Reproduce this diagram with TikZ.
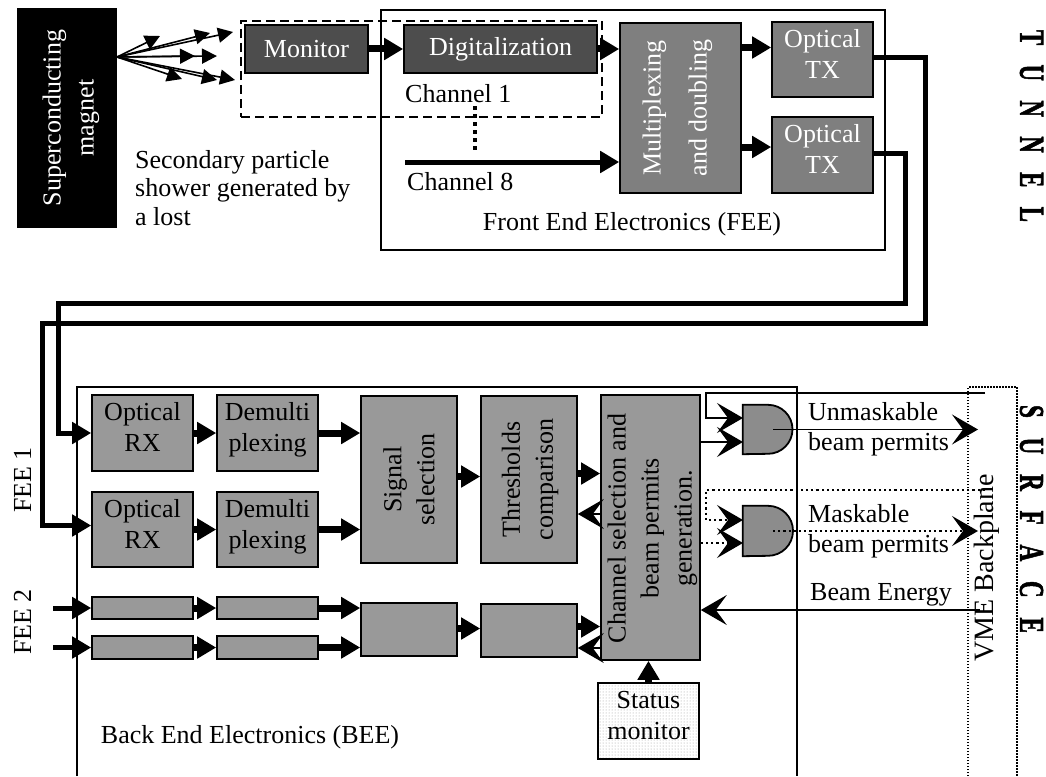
\documentclass[tikz,border=0pt]{standalone}
\usepackage{fontspec}
\setmainfont{Liberation Serif}
\newfontfamily\spacedfont[WordSpace=3.4,UprightFont={* Bold},FakeBold=2]{Liberation Serif}
\usetikzlibrary{arrows.meta,patterns,calc}
\definecolor{dk}{HTML}{4D4D4D}
\definecolor{md}{HTML}{7F7F7F}
\definecolor{lt}{HTML}{999999}
\definecolor{gt}{HTML}{8C8C8C}
\begin{document}
\begin{tikzpicture}[x=1pt,y=-1pt,
  every node/.style={font=\fontsize{26}{31}\selectfont, inner sep=0pt},
  wh/.style 2 args={minimum width=#1pt,minimum height=#2pt},
  box/.style={draw, line width=1.6pt, align=center},
  dkbox/.style={box, fill=dk, text=white},
  mdbox/.style={box, fill=md, text=white, text depth=12pt},
  ltbox/.style={box, fill=lt, text depth=12pt},
  rot/.style={rotate=90, align=center, font=\fontsize{26}{33}\selectfont},
  tarrow/.style={line width=7pt, -{Triangle[length=19pt,width=21pt]}},
  tarrowfive/.style={line width=5pt, -{Triangle[length=19pt,width=21pt]}},
  fiber/.style={line width=5pt, line join=miter, -{Triangle[length=19pt,width=21pt]}},
  fanarrow/.style={line width=1.6pt, -{Triangle[length=15pt,width=15pt]}},
  thinarrow/.style={line width=1.6pt, -{Stealth[length=26pt,width=30pt,inset=11pt]}},
  dotline/.style={line width=2.2pt, dash pattern=on 2.2pt off 3pt},
  gate/.style={draw, line width=1.8pt, fill=gt},
  vertlabel/.style={rotate=-90, font=\spacedfont\bfseries\fontsize{35}{35}\selectfont}
]
\useasboundingbox (0,0) rectangle (1046,776);

% ---------- tunnel part ----------
\node[draw, line width=1.3pt, wh={504}{240}] (fee) at (633,130) {};
\node[draw, line width=1.8pt, dash pattern=on 9pt off 5pt, wh={361}{96}] (chbox) at (421.5,69) {};

\node[box, fill=black, wh={98}{218}] (mag) at (67,118) {};
\node[rot, text=white] (magt) at (71,118) {Superconducting\\magnet};

\node[dkbox, wh={123}{48}] (mon) at (306.5,49) {Monitor};
\node[dkbox, wh={193}{48}] (dig) at (500.5,49) {Digitalization};
\node[mdbox, wh={121}{170}] (mux) at (680.5,108) {};
\node[rot, text=white] (muxt) at (677.5,108) {Multiplexing\\[13pt]and doubling};
\node[mdbox, wh={101}{75}] (tx1) at (822.5,59.5) {Optical\\TX};
\node[mdbox, wh={101}{76}] (tx2) at (822.5,155) {Optical\\TX};

\node[anchor=base west] (ch1) at (405,102) {Channel 1};
\node[anchor=base west] (ch8) at (407,190) {Channel 8};
\node[anchor=base] (feel) at (632,230) {Front End Electronics (FEE)};
\node[anchor=north west, align=left, font=\fontsize{26}{28.5}\selectfont] (sec) at (135,150)
  {Secondary particle\\shower generated by\\a lost};

% fan of particles
\coordinate (fan) at (117,57);
\coordinate (f1) at (160,36);
\coordinate (f2) at (210,33);
\coordinate (f3) at (233,32);
\coordinate (f4) at (195,56);
\coordinate (f5) at (217,56);
\coordinate (f6) at (182,79);
\coordinate (f7) at (217,80);
\coordinate (f8) at (235,80);
\draw[fanarrow] (fan) -- (f1);
\draw[fanarrow] (fan) -- (f2);
\draw[fanarrow] (fan) -- (f3);
\draw[fanarrow] (fan) -- (f4);
\draw[fanarrow] (fan) -- (f5);
\draw[fanarrow] (fan) -- (f6);
\draw[fanarrow] (fan) -- (f7);
\draw[fanarrow] (fan) -- (f8);

\draw[tarrow] (mon.east) -- (dig.west);
\draw[tarrow] (dig.east) -- (mux.west |- dig.east);
\coordinate (c8) at (405,162);
\draw[tarrowfive] (c8) -- (mux.west |- c8);
\coordinate (d1) at (475,106);
\coordinate (d2) at (475,153);
\draw[line width=4pt, dash pattern=on 4pt off 4pt] (d1) -- (d2);
\draw[tarrow] ($(mux.east |- tx1.west)+(0,-12)$) -- ($(tx1.west)+(0,-12)$);
\draw[tarrow] ($(mux.east |- tx2.west)+(0,-8)$) -- ($(tx2.west)+(0,-8)$);

% ---------- surface part ----------
\coordinate (bee1) at (77,776);
\coordinate (bee2) at (77,387);
\coordinate (bee3) at (797,387);
\coordinate (bee4) at (797,776);
\draw[line width=1.6pt] (bee1) -- (bee2) -- (bee3) -- (bee4);

\node[ltbox, wh={101}{76}] (rx1) at (142.5,433) {Optical\\RX};
\node[ltbox, wh={101}{75}] (rx2) at (142.5,529.5) {Optical\\RX};
\node[ltbox, wh={101}{76}] (dm1) at (267.5,433) {Demulti\\plexing};
\node[ltbox, wh={101}{75}] (dm2) at (267.5,529.5) {Demulti\\plexing};
\node[ltbox, wh={96}{167}] (sig) at (409,479.5) {};
\node[rot] (sigt) at (409,479.5) {Signal\\selection};
\node[ltbox, wh={96}{167}] (thr) at (529,479.5) {};
\node[rot] (thrt) at (530,479.5) {Thresholds\\comparison};
\node[ltbox, wh={99}{265}] (chan) at (650.5,527.5) {};
\node[rot] (chant) at (652.5,528.5) {Channel selection and\\beam permits\\generation.};
\node[ltbox, wh={101}{22}] (s1a) at (142.5,608) {};
\node[ltbox, wh={101}{22}] (s1b) at (267.5,608) {};
\node[ltbox, wh={101}{23}] (s2a) at (142.5,647.5) {};
\node[ltbox, wh={101}{23}] (s2b) at (267.5,647.5) {};
\node[ltbox, wh={96}{53}] (s3) at (409,629.5) {};
\node[ltbox, wh={96}{53}] (s4) at (529,630.5) {};
\node[box, pattern=dots, pattern color=gray!80, wh={101}{76}, text depth=12pt] (status) at (648.5,721) {Status\\monitor};

% optical fibres
\coordinate (la1) at (925,323);
\coordinate (la2) at (42,323);
\draw[fiber] ($(tx1.east)+(0,-2)$) -| (la1) -- (la2) |- ($(rx2.west)+(0,-4)$);
\coordinate (lb1) at (905,303);
\coordinate (lb2) at (58,303);
\draw[fiber] ($(tx2.east)+(0,-2)$) -| (lb1) -- (lb2) |- (rx1.west);

\draw[tarrow] (rx1.east) -- (dm1.west);
\draw[tarrow] (rx2.east) -- (dm2.west);
\draw[tarrow] (dm1.east) -- (sig.west |- dm1.east);
\draw[tarrow] (dm2.east) -- (sig.west |- dm2.east);
\draw[tarrow] ($(sig.east)+(0,-3)$) -- ($(thr.west)+(0,-3)$);
\draw[tarrow] ($(thr.east)+(0,-6)$) -- ($(chan.west |- thr.east)+(0,-6)$);
\coordinate (ct) at (601,514);
\draw[thinarrow] (chan.west |- ct) -- (thr.east |- ct);

\coordinate (fa) at (53,608);
\coordinate (fb) at (53,647.5);
\draw[tarrowfive] (fa) -- (s1a.west);
\draw[tarrowfive] (fb) -- (s2a.west);
\draw[tarrow] (s1a.east) -- (s1b.west);
\draw[tarrow] (s2a.east) -- (s2b.west);
\draw[tarrow] (s1b.east) -- (s3.west |- s1b.east);
\draw[tarrow] (s2b.east) -- (s3.west |- s2b.east);
\draw[tarrow] ($(s3.east)+(0,-1)$) -- ($(s4.west |- s3.east)+(0,-1)$);
\draw[tarrow] ($(s4.east)+(0,-4)$) -- ($(chan.west |- s4.east)+(0,-4)$);
\coordinate (cs) at (601,648);
\draw[thinarrow] (chan.west |- cs) -- (s4.east |- cs);
\draw[tarrow] (status.north) -- (status.north |- chan.south);

% gates
\node[wh={50}{49}] (g1) at (768,429.5) {};
\draw[gate] (g1.north west) -- (g1.north) arc[start angle=90,end angle=-90,radius=24.5pt] -- (g1.south west) -- cycle;
\node[wh={50}{50}] (g2) at (768,531) {};
\draw[gate] (g2.north west) -- (g2.north) arc[start angle=90,end angle=-90,radius=25pt] -- (g2.south west) -- cycle;

\coordinate (u0) at (985,393);
\coordinate (u1) at (706,393);
\coordinate (g1a) at (743,418);
\coordinate (g1b) at (743,442);
\coordinate (g1o) at (773,429.5);
\coordinate (u2) at (978,429.5);
\draw[thinarrow] (u0) -- (u1) |- (g1a);
\draw[thinarrow] (chan.east |- g1b) -- (g1b);
\draw[thinarrow] (g1o) -- (u2);

\coordinate (m0) at (985,490);
\coordinate (m1) at (706,490);
\coordinate (g2a) at (743,520);
\coordinate (g2b) at (743,543);
\coordinate (g2o) at (773,531);
\coordinate (m2) at (978,531);
\draw[dotline, thinarrow] (m0) -- (m1) |- (g2a);
\draw[dotline, thinarrow] (chan.east |- g2b) -- (g2b);
\draw[dotline, thinarrow] (g2o) -- (m2);

\coordinate (be) at (980,610);
\draw[thinarrow] (be) -- (chan.east |- be);

\node[anchor=west, align=left, font=\fontsize{26}{30}\selectfont] (unm) at (808,429) {Unmaskable\\beam permits};
\node[anchor=west, align=left, font=\fontsize{26}{30}\selectfont] (msk) at (808,531) {Maskable\\beam permits};
\node[anchor=base west] (ben) at (810,600) {Beam Energy};

% VME backplane
\coordinate (v1) at (968,776);
\coordinate (v2) at (968,387);
\coordinate (v3) at (1017,387);
\coordinate (v4) at (1017,776);
\draw[line width=1.2pt, dash pattern=on 1.5pt off 1.5pt] (v1) -- (v2) -- (v3) -- (v4);
\node[rotate=90, font=\fontsize{28}{30}\selectfont] (vmet) at (987,568) {VME Backplane};

\node[rotate=90] (fee1) at (22.5,480) {FEE 1};
\node[rotate=90] (fee2) at (22.5,622) {FEE 2};
\node[anchor=base] (beel) at (250,743) {Back End Electronics (BEE)};

\node[vertlabel] (tun) at (1031.5,126) {\resizebox{192pt}{23pt}{T U N N E L}};
\node[vertlabel] (sur) at (1031.5,519) {\resizebox{228pt}{23pt}{S U R F A C E}};
\end{tikzpicture}
\end{document}
